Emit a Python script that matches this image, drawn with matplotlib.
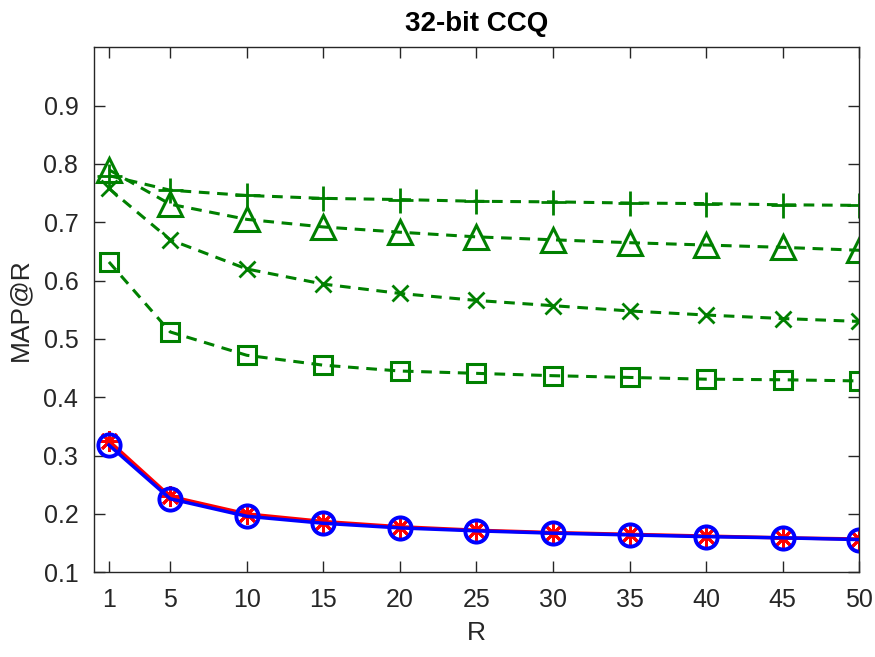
import matplotlib.pyplot as plt
import numpy as np

plt.rcParams['font.family'] = ['Liberation Sans', 'DejaVu Sans']

R = [1, 5, 10, 15, 20, 25, 30, 35, 40, 45, 50]
plus_vals = [0.780, 0.755, 0.746, 0.741, 0.739, 0.736, 0.735, 0.733, 0.732, 0.730, 0.729]
tri_vals = [0.790, 0.731, 0.705, 0.692, 0.683, 0.675, 0.670, 0.665, 0.661, 0.657, 0.652]
x_vals = [0.758, 0.670, 0.620, 0.594, 0.578, 0.566, 0.557, 0.548, 0.541, 0.535, 0.530]
sq_vals = [0.632, 0.512, 0.472, 0.455, 0.445, 0.441, 0.437, 0.434, 0.431, 0.430, 0.428]
red_vals = [0.325, 0.230, 0.200, 0.187, 0.178, 0.172, 0.168, 0.165, 0.162, 0.159, 0.157]
blue_vals = [0.318, 0.226, 0.196, 0.184, 0.176, 0.171, 0.167, 0.164, 0.161, 0.159, 0.156]

green = '#008000'

fig = plt.figure(figsize=(8.75, 6.57), dpi=100)
ax = fig.add_axes([0.107, 0.129, 0.875, 0.799])

dash = (0, (3.5, 2.5))
ax.plot(R, plus_vals, color=green, linestyle=dash, linewidth=2.2, marker='+', markersize=18, markeredgewidth=2)
ax.plot(R, tri_vals, color=green, linestyle=dash, linewidth=2.2, marker='^', markersize=17, markeredgewidth=2.2, markerfacecolor='none')
ax.plot(R, x_vals, color=green, linestyle=dash, linewidth=2.2, marker='x', markersize=12, markeredgewidth=2)
ax.plot(R, sq_vals, color=green, linestyle=dash, linewidth=2.2, marker='s', markersize=13, markeredgewidth=2.2, markerfacecolor='none')
ax.plot(R, red_vals, color='red', linewidth=2.5, marker=(8, 2, 0), markersize=15, markeredgewidth=2)
ax.plot(R, blue_vals, color='blue', linewidth=2.5, marker='o', markersize=16, markeredgewidth=2.8, markerfacecolor='none')

ax.set_xlim(0, 50)
ax.set_ylim(0.1, 1.0)
ax.set_xticks(R)
ax.set_yticks(np.arange(0.1, 0.95, 0.1))
ax.set_yticklabels(['0.1', '0.2', '0.3', '0.4', '0.5', '0.6', '0.7', '0.8', '0.9'])

for s in ax.spines.values():
    s.set_color('#262626')
    s.set_linewidth(1)
ax.tick_params(direction='in', length=8, width=1, colors='#262626', labelsize=18,
               top=True, right=True, pad=11)

ax.set_xlabel('R', fontsize=19, color='#262626', labelpad=7)
ax.set_ylabel('MAP@R', fontsize=19, color='#262626', labelpad=8)
ax.set_title('32-bit CCQ', fontsize=20, fontweight='bold', pad=12)

fig.savefig('out.png', dpi=100)
